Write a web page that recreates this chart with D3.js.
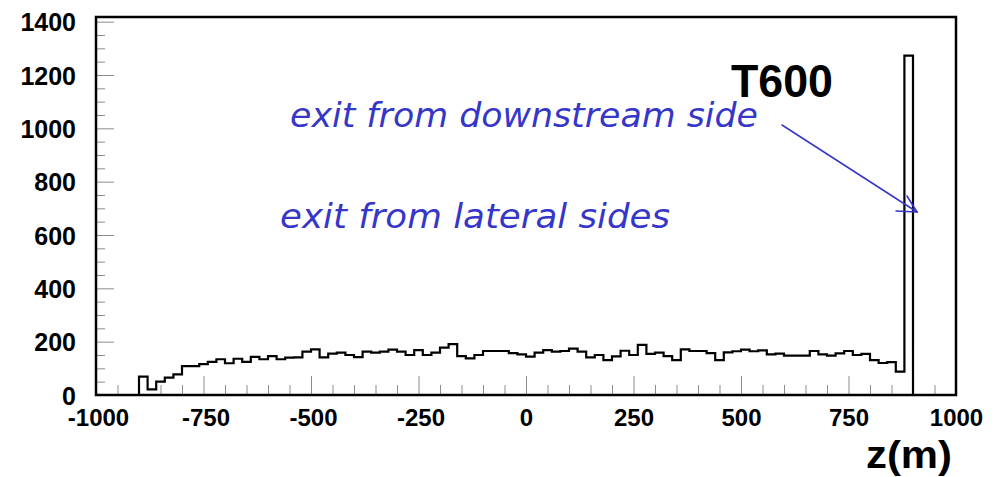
<!DOCTYPE html>
<html>
<head>
<meta charset="utf-8">
<script src="https://cdn.jsdelivr.net/npm/d3@7"></script>
<style>
  html, body { margin: 0; padding: 0; background: #fff; }
  svg { display: block; }
</style>
</head>
<body>
<svg id="chart" width="1002" height="477"></svg>
<script>
// Exit position along the detector axis, 20 m bins from -900 m to 900 m
const binStart = -900;
const binWidth = 20;
const counts = [
  69, 21, 50, 65, 77, 108, 108, 116, 124, 134,
  119, 136, 124, 143, 134, 146, 134, 140, 141, 163,
  171, 141, 155, 159, 150, 142, 163, 159, 163, 170,
  163, 150, 168, 150, 159, 178, 191, 146, 137, 150,
  165, 165, 165, 157, 152, 144, 159, 168, 163, 165,
  174, 163, 141, 150, 131, 145, 166, 150, 188, 154,
  159, 146, 131, 171, 165, 165, 157, 131, 160, 164,
  170, 164, 167, 152, 155, 148, 148, 148, 165, 152,
  148, 156, 165, 150, 154, 131, 120, 123, 88, 1273
];
const xMajorTicks = [-1000, -750, -500, -250, 0, 250, 500, 750, 1000];
const yMajorTicks = [0, 200, 400, 600, 800, 1000, 1200, 1400];
const xTitle = "z(m)";
const detectorLabel = "T600";
const noteDownstream = "exit from downstream side";
const noteLateral = "exit from lateral sides";

const svg = d3.select("#chart");
const plotLeft = 96, plotRight = 956, plotTop = 17, plotBottom = 395;

const x = d3.scaleLinear().domain([-1000, 1000]).range([plotLeft, plotRight]);
const y = d3.scaleLinear().domain([0, 1417.5]).range([plotBottom, plotTop]);

const labelFont = "'Liberation Sans', Arial, Helvetica, sans-serif";
const tickColor = "#8c8c8c";
const plainNumber = d => String(d);   // ASCII hyphen for negatives

// minor ticks every 50
const xMinor = d3.range(-1000, 1001, 50).filter(v => !xMajorTicks.includes(v));
const yMinor = d3.range(0, 1401, 50).filter(v => !yMajorTicks.includes(v));

function styleAxis(g) {
  g.select(".domain").remove();
  g.selectAll(".tick line").attr("stroke", tickColor).attr("stroke-width", 1);
}

svg.append("g")
  .attr("transform", `translate(0,${plotBottom})`)
  .call(d3.axisBottom(x).tickValues(xMinor).tickSize(-10).tickFormat(""))
  .call(styleAxis);

const xAxis = svg.append("g")
  .attr("transform", `translate(0,${plotBottom})`)
  .call(d3.axisBottom(x).tickValues(xMajorTicks).tickSize(-19).tickPadding(0).tickFormat(plainNumber))
  .call(styleAxis);
xAxis.selectAll(".tick text")
  .attr("y", 31).attr("dy", 0)
  .attr("x", d => d < 0 ? 2 : 0)
  .attr("font-family", labelFont).attr("font-weight", "bold")
  .attr("font-size", 24).attr("fill", "#000");

svg.append("g")
  .attr("transform", `translate(${plotLeft},0)`)
  .call(d3.axisLeft(y).tickValues(yMinor).tickSize(-9).tickFormat(""))
  .call(styleAxis);

const yAxis = svg.append("g")
  .attr("transform", `translate(${plotLeft},0)`)
  .call(d3.axisLeft(y).tickValues(yMajorTicks).tickSize(-18).tickPadding(20).tickFormat(plainNumber))
  .call(styleAxis);
yAxis.selectAll(".tick text")
  .attr("dy", 0).attr("y", 9)
  .attr("font-family", labelFont).attr("font-weight", "bold")
  .attr("font-size", 25).attr("fill", "#000");

// histogram outline
const pts = [[binStart, 0]];
counts.forEach((c, i) => {
  const lo = binStart + i * binWidth;
  pts.push([lo, c], [lo + binWidth, c]);
});
pts.push([binStart + counts.length * binWidth, 0]);

svg.append("path")
  .attr("d", d3.line().x(d => x(d[0])).y(d => y(d[1]))(pts))
  .attr("fill", "none")
  .attr("stroke", "#000")
  .attr("stroke-width", 2.2)
  .attr("stroke-linejoin", "miter");

// frame
svg.append("rect")
  .attr("x", plotLeft).attr("y", plotTop)
  .attr("width", plotRight - plotLeft).attr("height", plotBottom - plotTop)
  .attr("fill", "none").attr("stroke", "#000").attr("stroke-width", 2.5);

// axis title
svg.append("text")
  .attr("x", 952).attr("y", 468)
  .attr("text-anchor", "end")
  .attr("font-family", labelFont).attr("font-weight", "bold")
  .attr("font-size", 38)
  .attr("textLength", 86).attr("lengthAdjust", "spacingAndGlyphs")
  .text(xTitle);

// detector label
svg.append("text")
  .attr("x", 731).attr("y", 97)
  .attr("font-family", labelFont).attr("font-weight", "bold")
  .attr("font-size", 46)
  .attr("textLength", 102).attr("lengthAdjust", "spacingAndGlyphs")
  .text(detectorLabel);

// annotations
const noteColor = "#3636c8";
const noteFont = "'Comic Sans MS', 'DejaVu Sans', sans-serif";

svg.append("text")
  .attr("x", 290).attr("y", 127)
  .attr("font-family", noteFont).attr("font-style", "italic")
  .attr("font-size", 34).attr("fill", noteColor)
  .attr("textLength", 468).attr("lengthAdjust", "spacingAndGlyphs")
  .text(noteDownstream);

svg.append("text")
  .attr("x", 280).attr("y", 228)
  .attr("font-family", noteFont).attr("font-style", "italic")
  .attr("font-size", 34).attr("fill", noteColor)
  .attr("textLength", 390).attr("lengthAdjust", "spacingAndGlyphs")
  .text(noteLateral);

// arrow toward the downstream bin
const arrow = svg.append("g")
  .attr("stroke", noteColor).attr("stroke-width", 1.5)
  .attr("fill", "none").attr("stroke-linecap", "round");
arrow.append("line").attr("x1", 782).attr("y1", 125).attr("x2", 917).attr("y2", 212);
arrow.append("line").attr("x1", 917).attr("y1", 212).attr("x2", 907).attr("y2", 196);
arrow.append("line").attr("x1", 917).attr("y1", 212).attr("x2", 896).attr("y2", 211);
</script>
</body>
</html>
